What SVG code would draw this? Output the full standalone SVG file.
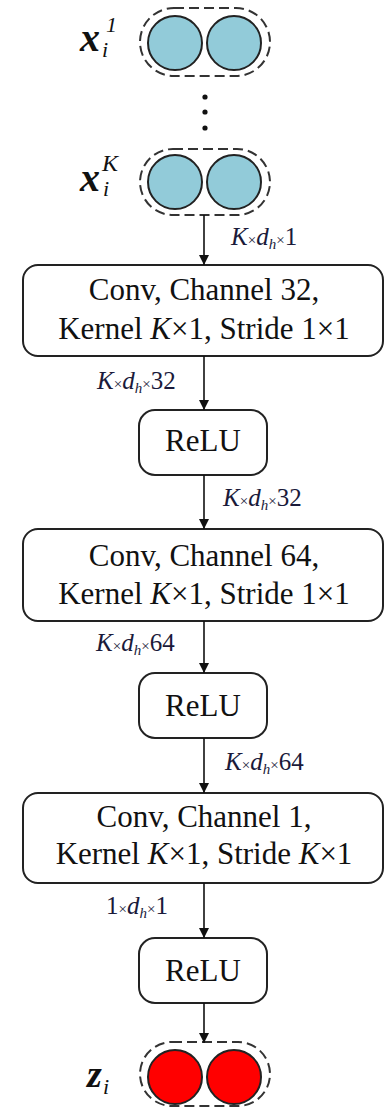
<svg xmlns="http://www.w3.org/2000/svg" width="386" height="1108" viewBox="0 0 386 1108">
<style>
  .box { fill: #ffffff; stroke: #222; stroke-width: 2; }
  .cap { fill: none; stroke: #333; stroke-width: 2; stroke-dasharray: 10 5; }
  .cin { fill: #92cbd9; stroke: #222; stroke-width: 2; }
  .cout { fill: #ff0000; stroke: #222; stroke-width: 2; }
  .t { font-family: "Liberation Serif", "Times New Roman", serif; font-size: 31px; fill: #111; text-anchor: middle; }
  .lbl { font-family: "Liberation Serif", "Times New Roman", serif; font-size: 25px; fill: #1a1a3a; }
  .sm { font-size: 15px; }
  .it { font-style: italic; }
  .var { font-family: "Liberation Serif", "Times New Roman", serif; fill: #111; }
  .edge { stroke: #111; stroke-width: 1.6; fill: none; marker-end: url(#ah); }
</style>
<defs>
  <marker id="ah" markerUnits="userSpaceOnUse" markerWidth="10" markerHeight="12" refX="10" refY="5" orient="auto">
    <path d="M0,0 L10,5 L0,10 Z" fill="#111"/>
  </marker>
</defs>

<g id="input1">
  <rect class="cap" x="140" y="8" width="130" height="68" rx="34"/>
  <circle class="cin" cx="175" cy="43" r="27"/>
  <circle class="cin" cx="234" cy="43" r="27"/>
  <text class="var" x="80" y="51" font-size="40" font-weight="bold" font-style="italic">x</text>
  <text class="var" x="106" y="32" font-size="22" font-style="italic">1</text>
  <text class="var" x="102" y="57" font-size="22" font-style="italic">i</text>
</g>

<g id="dots">
  <circle cx="205" cy="97" r="2.6" fill="#111"/>
  <circle cx="205" cy="112" r="2.6" fill="#111"/>
  <circle cx="205" cy="128" r="2.6" fill="#111"/>
</g>

<g id="inputK">
  <rect class="cap" x="140" y="149" width="130" height="66" rx="33"/>
  <circle class="cin" cx="175" cy="182" r="27"/>
  <circle class="cin" cx="234" cy="182" r="27"/>
  <text class="var" x="80" y="191" font-size="40" font-weight="bold" font-style="italic">x</text>
  <text class="var" x="102" y="171" font-size="24" font-style="italic">K</text>
  <text class="var" x="103" y="196" font-size="22" font-style="italic">i</text>
</g>

<g id="conv1">
  <rect class="box" x="23" y="265" width="360" height="91" rx="15"/>
  <text class="t" x="204" y="300">Conv, Channel 32,</text>
  <text class="t" x="204" y="339">Kernel <tspan class="it">K</tspan>×1, Stride 1×1</text>
</g>

<g id="relu1">
  <rect class="box" x="139" y="410" width="128" height="65" rx="16"/>
  <text class="t" x="203" y="451">ReLU</text>
</g>

<g id="conv2">
  <rect class="box" x="23" y="529" width="360" height="92" rx="15"/>
  <text class="t" x="204" y="566">Conv, Channel 64,</text>
  <text class="t" x="204" y="604">Kernel <tspan class="it">K</tspan>×1, Stride 1×1</text>
</g>

<g id="relu2">
  <rect class="box" x="139" y="673" width="128" height="65" rx="16"/>
  <text class="t" x="203" y="716">ReLU</text>
</g>

<g id="conv3">
  <rect class="box" x="23" y="793" width="360" height="90" rx="15"/>
  <text class="t" x="204" y="827">Conv, Channel 1,</text>
  <text class="t" x="204" y="864">Kernel <tspan class="it">K</tspan>×1, Stride <tspan class="it">K</tspan>×1</text>
</g>

<g id="relu3">
  <rect class="box" x="139" y="938" width="128" height="65" rx="16"/>
  <text class="t" x="203" y="981">ReLU</text>
</g>

<g id="output">
  <rect class="cap" x="140" y="1042" width="130" height="64" rx="32"/>
  <circle class="cout" cx="175" cy="1077" r="27"/>
  <circle class="cout" cx="234" cy="1077" r="27"/>
  <text class="var" x="87" y="1087" font-size="38" font-weight="bold" font-style="italic">z</text>
  <text class="var" x="103" y="1094" font-size="22" font-style="italic">i</text>
</g>

<g id="connectors">
  <line class="edge" x1="204" y1="215" x2="204" y2="265"/>
  <line class="edge" x1="204" y1="356" x2="204" y2="410"/>
  <line class="edge" x1="204" y1="475" x2="204" y2="529"/>
  <line class="edge" x1="204" y1="621" x2="204" y2="673"/>
  <line class="edge" x1="204" y1="738" x2="204" y2="793"/>
  <line class="edge" x1="204" y1="883" x2="204" y2="938"/>
  <line class="edge" x1="204" y1="1003" x2="204" y2="1043"/>
</g>

<g id="edge-labels">
  <text class="lbl" x="231" y="245"><tspan class="it">K</tspan><tspan class="sm">×</tspan><tspan class="it">d</tspan><tspan class="sm it" dy="4">h</tspan><tspan class="sm" dy="-4">×</tspan>1</text>
  <text class="lbl" x="97" y="389"><tspan class="it">K</tspan><tspan class="sm">×</tspan><tspan class="it">d</tspan><tspan class="sm it" dy="4">h</tspan><tspan class="sm" dy="-4">×</tspan>32</text>
  <text class="lbl" x="223" y="506"><tspan class="it">K</tspan><tspan class="sm">×</tspan><tspan class="it">d</tspan><tspan class="sm it" dy="4">h</tspan><tspan class="sm" dy="-4">×</tspan>32</text>
  <text class="lbl" x="96" y="651"><tspan class="it">K</tspan><tspan class="sm">×</tspan><tspan class="it">d</tspan><tspan class="sm it" dy="4">h</tspan><tspan class="sm" dy="-4">×</tspan>64</text>
  <text class="lbl" x="225" y="770"><tspan class="it">K</tspan><tspan class="sm">×</tspan><tspan class="it">d</tspan><tspan class="sm it" dy="4">h</tspan><tspan class="sm" dy="-4">×</tspan>64</text>
  <text class="lbl" x="106" y="914">1<tspan class="sm">×</tspan><tspan class="it">d</tspan><tspan class="sm it" dy="4">h</tspan><tspan class="sm" dy="-4">×</tspan>1</text>
</g>
</svg>
